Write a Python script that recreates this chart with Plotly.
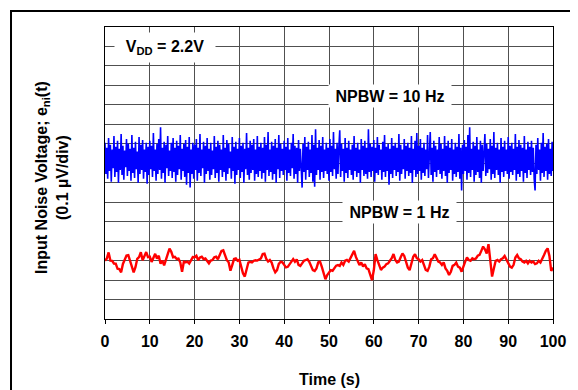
import numpy as np
import plotly.graph_objects as go

# ---- data (nV; 100 nV per division) ----
blue_10hz = [
    905, 745, 880, 720, 930, 760, 895, 705, 870, 775, 940, 730, 885, 755, 915, 700, 875, 765, 950, 740, 890, 715, 865, 780, 925,
    735, 900, 760, 875, 710, 945, 750, 880, 725, 910, 770, 860, 700, 935, 745, 895, 765, 920, 720, 870, 755, 905, 695, 885, 740,
    915, 770, 890, 730, 955, 760, 870, 710, 900, 745, 925, 765, 985, 720, 880, 750, 910, 700, 895, 775, 940, 735, 865, 760, 905,
    725, 930, 755, 880, 705, 915, 740, 890, 770, 945, 715, 875, 760, 900, 730, 920, 690, 885, 750, 935, 675, 870, 745, 905, 720,
    895, 765, 925, 710, 880, 750, 950, 735, 870, 775, 910, 700, 890, 745, 930, 760, 875, 715, 905, 740, 865, 770, 940, 725, 885,
    750, 915, 705, 895, 765, 870, 730, 945, 755, 880, 710, 920, 745, 900, 775, 860, 720, 935, 760, 885, 695, 910, 740, 875, 765,
    930, 725, 890, 755, 905, 700, 875, 770, 955, 740, 880, 715, 915, 750, 895, 765, 925, 710, 870, 745, 940, 730, 885, 760, 905,
    720, 880, 750, 935, 705, 895, 765, 960, 735, 870, 755, 910, 715, 890, 745, 925, 700, 880, 770, 945, 725, 900, 760, 875, 740,
    915, 765, 885, 710, 930, 750, 870, 735, 905, 775, 950, 720, 890, 745, 880, 700, 920, 760, 875, 740, 675, 900, 755, 935, 715,
    885, 765, 910, 730, 870, 750, 945, 705, 895, 680, 975, 740, 880, 765, 920, 715, 890, 755, 935, 725, 870, 760, 905, 745, 880,
    710, 925, 755, 890, 735, 960, 770, 875, 720, 905, 745, 885, 970, 730, 900, 760, 875, 705, 930, 750, 880, 725, 915, 765, 870,
    740, 895, 715, 940, 760, 880, 730, 905, 750, 870, 700, 925, 765, 890, 735, 915, 745, 880, 720, 975, 755, 900, 730, 885, 760,
    920, 705, 880, 750, 935, 740, 895, 765, 870, 715, 910, 755, 945, 730, 885, 760, 900, 690, 875, 745, 930, 725, 890, 765, 905,
    735, 880, 755, 950, 710, 895, 745, 870, 770, 925, 720, 890, 760, 905, 735, 880, 750, 940, 700, 875, 765, 915, 730, 955, 745,
    890, 760, 925, 715, 880, 750, 905, 735, 870, 770, 945, 725, 895, 960, 740, 880, 705, 915, 755, 890, 730, 870, 765, 935, 745,
    900, 720, 875, 760, 940, 735, 890, 700, 915, 750, 880, 765, 925, 710, 870, 745, 905, 730, 885, 755, 950, 720, 880, 660, 895,
    745, 920, 760, 885, 715, 945, 750, 985, 730, 875, 765, 910, 705, 890, 740, 935, 755, 870, 725, 915, 700, 895, 760, 880, 950,
    735, 900, 750, 875, 770, 925, 715, 890, 745, 960, 725, 880, 765, 905, 740, 870, 700, 930, 755, 885, 730, 915, 760, 870, 745,
    935, 720, 890, 755, 905, 740, 875, 765, 950, 710, 885, 745, 920, 730, 895, 760, 880, 705, 940, 750, 870, 725, 910, 765, 885,
    740, 915, 755, 880, 720, 660, 895, 745, 930, 765, 870, 710, 905, 750, 955, 730, 885, 760, 900, 715, 925, 745, 875, 735, 910,
    760,
]

red_1hz = [
    300, 310, 342, 300, 299, 285, 284, 258, 256, 240, 283, 301, 326, 328, 302, 268, 240, 266, 309, 318,
    343, 302, 325, 344, 318, 320, 293, 316, 335, 310, 325, 284, 300, 276, 309, 328, 362, 345, 317, 319,
    308, 310, 291, 243, 294, 292, 295, 285, 301, 318, 317, 325, 302, 316, 320, 308, 311, 299, 286, 300,
    303, 317, 320, 307, 329, 350, 353, 324, 302, 291, 248, 277, 308, 311, 299, 304, 274, 235, 218, 251,
    290, 294, 291, 299, 302, 300, 307, 311, 334, 336, 308, 295, 303, 290, 260, 240, 251, 283, 294, 291,
    278, 265, 268, 282, 295, 308, 294, 306, 278, 273, 286, 299, 303, 307, 294, 274, 251, 247, 260, 291,
    295, 268, 231, 204, 226, 239, 251, 248, 259, 274, 277, 273, 290, 278, 299, 303, 295, 316, 329, 350,
    319, 300, 277, 290, 269, 282, 260, 256, 222, 200, 250, 333, 302, 273, 252, 264, 269, 282, 286, 299,
    312, 334, 303, 290, 295, 317, 337, 324, 286, 264, 251, 290, 320, 333, 312, 307, 295, 303, 273, 252,
    247, 269, 307, 312, 333, 316, 295, 290, 278, 291, 260, 247, 226, 243, 273, 278, 290, 269, 264, 243,
    273, 295, 316, 303, 299, 312, 307, 311, 325, 329, 350, 372, 358, 337, 384, 303, 218, 260, 299, 303,
    295, 307, 312, 324, 303, 290, 269, 264, 278, 316, 329, 312, 307, 295, 290, 299, 286, 299, 290, 295,
    282, 286, 299, 290, 307, 329, 350, 363, 324, 247, 264,
]

x_ticks = [0, 10, 20, 30, 40, 50, 60, 70, 80, 90, 100]

t_blue = np.linspace(0, 100, len(blue_10hz))
t_red = np.linspace(0, 100, len(red_1hz))

FONT = "Arial, 'Liberation Sans', sans-serif"

fig = go.Figure()
fig.add_trace(go.Scatter(x=t_blue, y=blue_10hz, mode="lines",
                         line=dict(color="#0000FF", width=1.6), showlegend=False))
fig.add_trace(go.Scatter(x=t_red, y=red_1hz, mode="lines",
                         line=dict(color="#FF0000", width=2.4), showlegend=False))

# the page adds an 8 px body margin, so the figure is 8 px smaller on each side
fig.update_layout(
    width=570, height=382,
    margin=dict(l=97, r=25, t=19, b=71),
    paper_bgcolor="white", plot_bgcolor="white",
    font=dict(family=FONT, color="black"),
    showlegend=False,
)
fig.update_xaxes(
    range=[0, 100], tickvals=x_ticks, ticktext=[str(v) for v in x_ticks],
    showgrid=True, gridcolor="#505050", gridwidth=1,
    showline=True, linecolor="black", linewidth=1, mirror=True,
    ticks="outside", ticklen=4, tickcolor="black", ticklabelstandoff=4,
    tickfont=dict(size=16, family=FONT, weight="bold", color="black"),
    zeroline=False, fixedrange=True,
)
fig.update_yaxes(
    range=[0, 1500], dtick=100, showticklabels=False,
    showgrid=True, gridcolor="#505050", gridwidth=1,
    showline=True, linecolor="black", linewidth=1, mirror=True,
    ticks="", zeroline=False, fixedrange=True,
)

box = dict(bgcolor="white", borderpad=2, showarrow=False,
           font=dict(size=16, family=FONT, color="black", weight="bold"))
fig.add_annotation(x=13.4, y=1395, xref="x", yref="y",
                   text="V<sub>DD</sub> = 2.2V", width=96, height=25, **box)
fig.add_annotation(x=63.6, y=1146, xref="x", yref="y",
                   text="NPBW = 10 Hz", width=118, height=18, **box)
fig.add_annotation(x=65.8, y=550, xref="x", yref="y",
                   text="NPBW = 1 Hz", width=109, height=18, **box)

fig.add_annotation(x=0.5, y=-0.2055, xref="paper", yref="paper",
                   text="Time (s)", showarrow=False, yanchor="middle",
                   font=dict(size=16, family=FONT, color="black", weight="bold"))
fig.add_annotation(x=-0.1183, y=0.483, xref="paper", yref="paper",
                   text="Input Noise Voltage; e<sub>ni</sub>(t)<br>(0.1 µV/div)",
                   textangle=-90, showarrow=False, xanchor="center", yanchor="middle",
                   font=dict(size=16, family=FONT, color="black", weight="bold"))

# outer frame of the figure (runs off the right and bottom edges)
fig.add_shape(type="rect", xref="paper", yref="paper",
              x0=-0.2098, y0=-0.35, x1=1.15, y1=1.0548,
              line=dict(color="black", width=2), fillcolor="rgba(0,0,0,0)", layer="above")

fig.write_html("out.html")
